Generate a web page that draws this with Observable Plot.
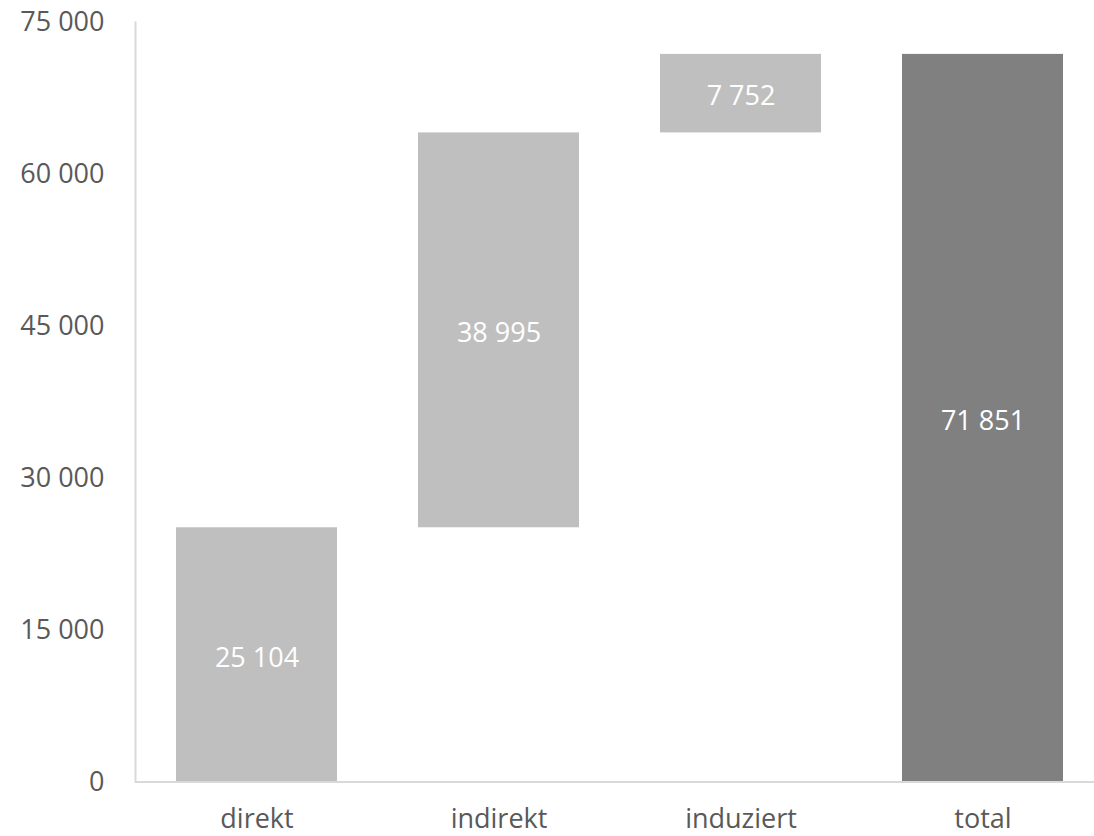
<!DOCTYPE html>
<html>
<head>
<meta charset="utf-8">
<script src="https://cdn.jsdelivr.net/npm/d3@7"></script>
<script src="https://cdn.jsdelivr.net/npm/@observablehq/plot@0.6"></script>
<style>
  html, body { margin: 0; padding: 0; background: #fff; }
  #chart { width: 1094px; height: 836px; }
  svg text { font-family: "Open Sans", sans-serif; }
</style>
</head>
<body>
<div id="chart"></div>
<script>
const categories = ["direkt", "indirekt", "induziert", "total"];
const values = [25104, 38995, 7752, 71851];
const isTotal = [false, false, false, true];
const yTicks = [0, 15000, 30000, 45000, 60000, 75000];

const locale = d3.formatLocale({thousands: " ", grouping: [3], decimal: ",", currency: ["", ""]});
const fmt = locale.format(",d");

let running = 0;
const data = categories.map((c, i) => {
  let y1, y2;
  if (isTotal[i]) { y1 = 0; y2 = values[i]; }
  else { y1 = running; y2 = running + values[i]; running = y2; }
  return {category: c, value: values[i], y1, y2, mid: (y1 + y2) / 2, total: isTotal[i]};
});

const chart = Plot.plot({
  width: 1094,
  height: 836,
  marginLeft: 135,
  marginRight: 0,
  marginTop: 22,
  marginBottom: 54.5,
  style: {fontFamily: "'Open Sans', sans-serif", fontSize: "27px", color: "#595959", background: "#fff"},
  x: {domain: categories, range: [135, 1104], paddingInner: 0.335, paddingOuter: 0.1675, label: null},
  y: {domain: [0, 75000], label: null},
  marks: [
    Plot.barY(data, {x: "category", y1: "y1", y2: "y2", fill: d => d.total ? "#808080" : "#bfbfbf"}),
    Plot.ruleY([0], {stroke: "#d9d9d9", strokeWidth: 2}),
    Plot.frame({anchor: "left", stroke: "#d9d9d9", strokeWidth: 2}),
    Plot.axisY({ticks: yTicks, tickFormat: fmt, tickSize: 0, tickPadding: 31, fill: "#595959", fontSize: 27, label: null}),
    Plot.axisX({tickSize: 0, tickPadding: 27, fill: "#595959", fontSize: 27, label: null}),
    Plot.text(data, {x: "category", y: "mid", text: d => fmt(d.value), fill: "#fff", fontSize: 27, dy: 3})
  ]
});
document.getElementById("chart").appendChild(chart);
</script>
</body>
</html>
